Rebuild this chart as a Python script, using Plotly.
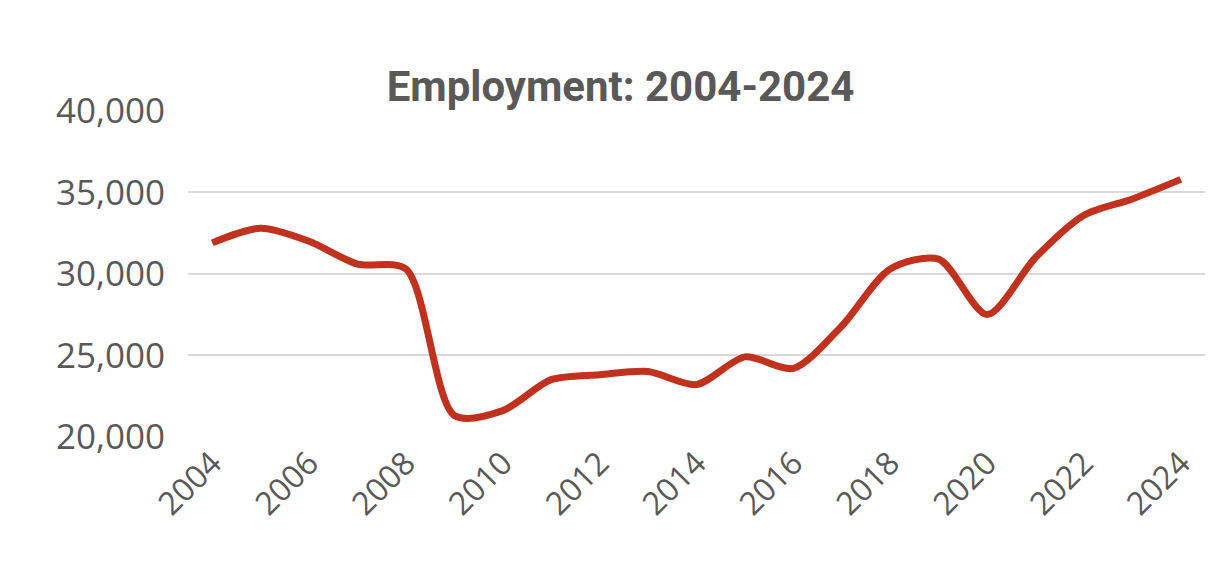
import plotly.graph_objects as go

years = list(range(2004, 2025))
employment = [31900, 32800, 32000, 30600, 30300, 21300, 21600, 23500, 23800, 24000,
              23200, 24900, 24200, 26800, 30300, 30900, 27500, 31000, 33600, 34600, 35800]
tick_years = list(range(2004, 2025, 2))

fig = go.Figure(go.Scatter(
    x=years, y=employment, mode="lines",
    line=dict(color="#C0311E", width=7, shape="spline", smoothing=0.8),
))

fig.update_layout(
    width=1225, height=577,
    title=dict(text="<b>Employment: 2004-2024</b>", x=0.5, xanchor="center", y=0.89,
               font=dict(family="Roboto", size=42, color="#595959")),
    plot_bgcolor="white", paper_bgcolor="white",
    margin=dict(l=180, r=28, t=102, b=148),
    showlegend=False,
    xaxis=dict(range=[2003.5, 2024.5], tickvals=tick_years, tickangle=-45,
               showgrid=False, zeroline=False, showline=False,
               tickfont=dict(family="Open Sans", size=32, color="#595959")),
    yaxis=dict(range=[19980, 40060], tickvals=[20000, 25000, 30000, 35000, 40000],
               tickformat=",", gridcolor="#D9D9D9", gridwidth=2, zeroline=False,
               ticks="", ticklabelstandoff=22,
               tickfont=dict(family="Open Sans", size=35, color="#595959")),
)

fig.write_html("out.html")
